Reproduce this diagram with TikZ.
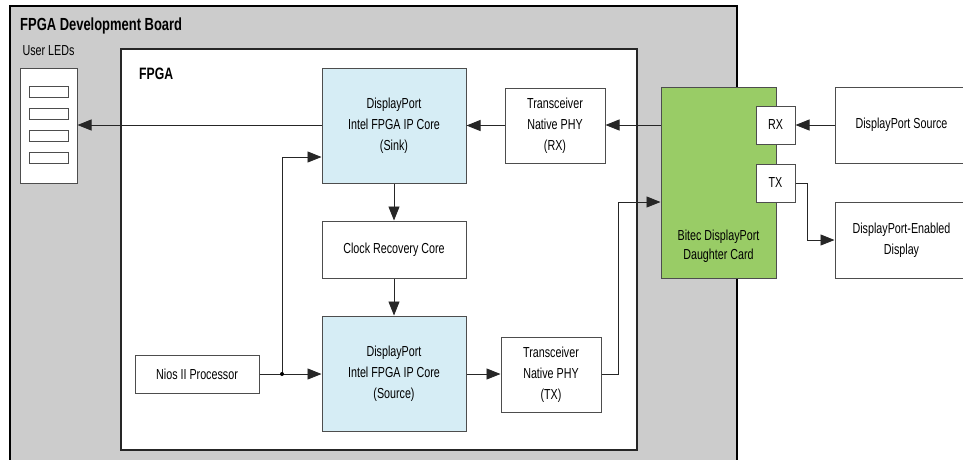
\documentclass[tikz,border=0pt]{standalone}
\usepackage{fontspec}
\setmainfont[FakeStretch=0.74]{Liberation Sans}
\usetikzlibrary{arrows.meta,calc}
\definecolor{boardgray}{HTML}{CCCCCC}
\definecolor{ipblue}{HTML}{D6EDF5}
\definecolor{cardgreen}{HTML}{99CC66}
\definecolor{edge}{HTML}{4D4D4D}
\tikzset{
  box/.style={draw=edge, line width=1pt, fill=white, inner sep=0pt, align=center,
    font=\fontsize{14.5}{21}\selectfont},
  ipbox/.style={box, fill=ipblue},
  ledbar/.style={draw=edge, line width=0.9pt, fill=white, minimum width=39pt, minimum height=10.5pt, inner sep=0pt},
  conn/.style={draw=black!85, line width=0.9pt},
  arr/.style={conn, -{Triangle[length=14pt,width=11pt]}},
  lbl/.style={font=\fontsize{14.5}{19}\selectfont, inner sep=0pt, align=center},
  blbl/.style={font=\bfseries\fontsize{17.5}{20}\selectfont, inner sep=0pt, anchor=west}
}
\begin{document}
\begin{tikzpicture}[x=1pt,y=-1pt]
\useasboundingbox (0,0) rectangle (963,459);
% board and FPGA
\filldraw[fill=boardgray, draw=black, line width=1.3pt] (10,480) -- (10,6) -- (737,6) -- (737,480);
\filldraw[fill=white, draw=black!85, line width=1.1pt] (121,49) rectangle (637,450);
\node[blbl] (boardt) at (20,26) {FPGA Development Board};
\node[blbl, font=\bfseries\fontsize{16.5}{20}\selectfont] (fpgat) at (139,74) {FPGA};
\node[lbl] (ledt) at (48.5,51) {User LEDs};
% LEDs
\node[box, minimum width=57pt, minimum height=115pt] (leds) at (48.5,125.5) {};
\node[ledbar] (l1) at (48.5,92) {};
\node[ledbar] (l2) at (48.5,114) {};
\node[ledbar] (l3) at (48.5,136) {};
\node[ledbar] (l4) at (48.5,158) {};
% FPGA blocks
\node[ipbox, minimum width=144pt, minimum height=115pt] (sink) at (394,125.5) {DisplayPort\\Intel FPGA IP Core\\(Sink)};
\node[box, minimum width=100pt, minimum height=75pt] (trx) at (555,125.5) {Transceiver\\Native PHY\\(RX)};
\node[box, minimum width=144pt, minimum height=57pt] (clk) at (394,249.5) {Clock Recovery Core};
\node[ipbox, minimum width=144pt, minimum height=115pt] (src) at (394,373.5) {DisplayPort\\Intel FPGA IP Core\\(Source)};
\node[box, minimum width=124pt, minimum height=38pt] (nios) at (197,374) {Nios II Processor};
\node[box, minimum width=100pt, minimum height=75pt] (ttx) at (551,374.5) {Transceiver\\Native PHY\\(TX)};
% daughter card
\node[box, fill=cardgreen, minimum width=115pt, minimum height=191pt] (card) at (718.5,182.5) {};
\node[lbl] (cardt) at (718.5,246.5) {Bitec DisplayPort\\Daughter Card};
\node[box, minimum width=39pt, minimum height=38pt] (rx) at (775.5,125) {RX};
\node[box, minimum width=39pt, minimum height=38pt] (tx) at (775.5,183) {TX};
% external
\node[box, minimum width=133pt, minimum height=76pt] (dpsrc) at (901.5,125) {DisplayPort Source};
\node[box, minimum width=133pt, minimum height=76pt] (dpdisp) at (901.5,240) {DisplayPort-Enabled\\Display};
% connectors
\draw[arr] (sink.west |- 0,125) -- (leds.east |- 0,125);
\draw[arr] (trx.west) -- (trx.west -| sink.east);
\draw[arr] (card.west |- 0,125) -- (trx.east |- 0,125);
\draw[arr] (sink.south) -- (clk.north);
\draw[arr] (clk.south) -- (src.north);
\coordinate (j) at (282,374);
\coordinate (jt) at (282,157);
\draw[arr] (nios.east) -- (src.west |- nios.east);
\draw[conn] (j) -- (jt);
\draw[arr] (jt) -- (jt -| sink.west);
\fill[black] (j) circle (2pt);
\draw[arr] (src.east |- 0,374) -- (ttx.west |- 0,374);
\coordinate (c1) at (618,202);
\draw[conn] (ttx.east |- 0,374) -| (c1);
\draw[arr] (c1) -- (c1 -| card.west);
\draw[arr] (dpsrc.west) -- (rx.east);
\coordinate (c2) at (807,183);
\draw[conn] (tx.east) -- (c2);
\draw[arr] (c2) |- (dpdisp.west);
\end{tikzpicture}
\end{document}
